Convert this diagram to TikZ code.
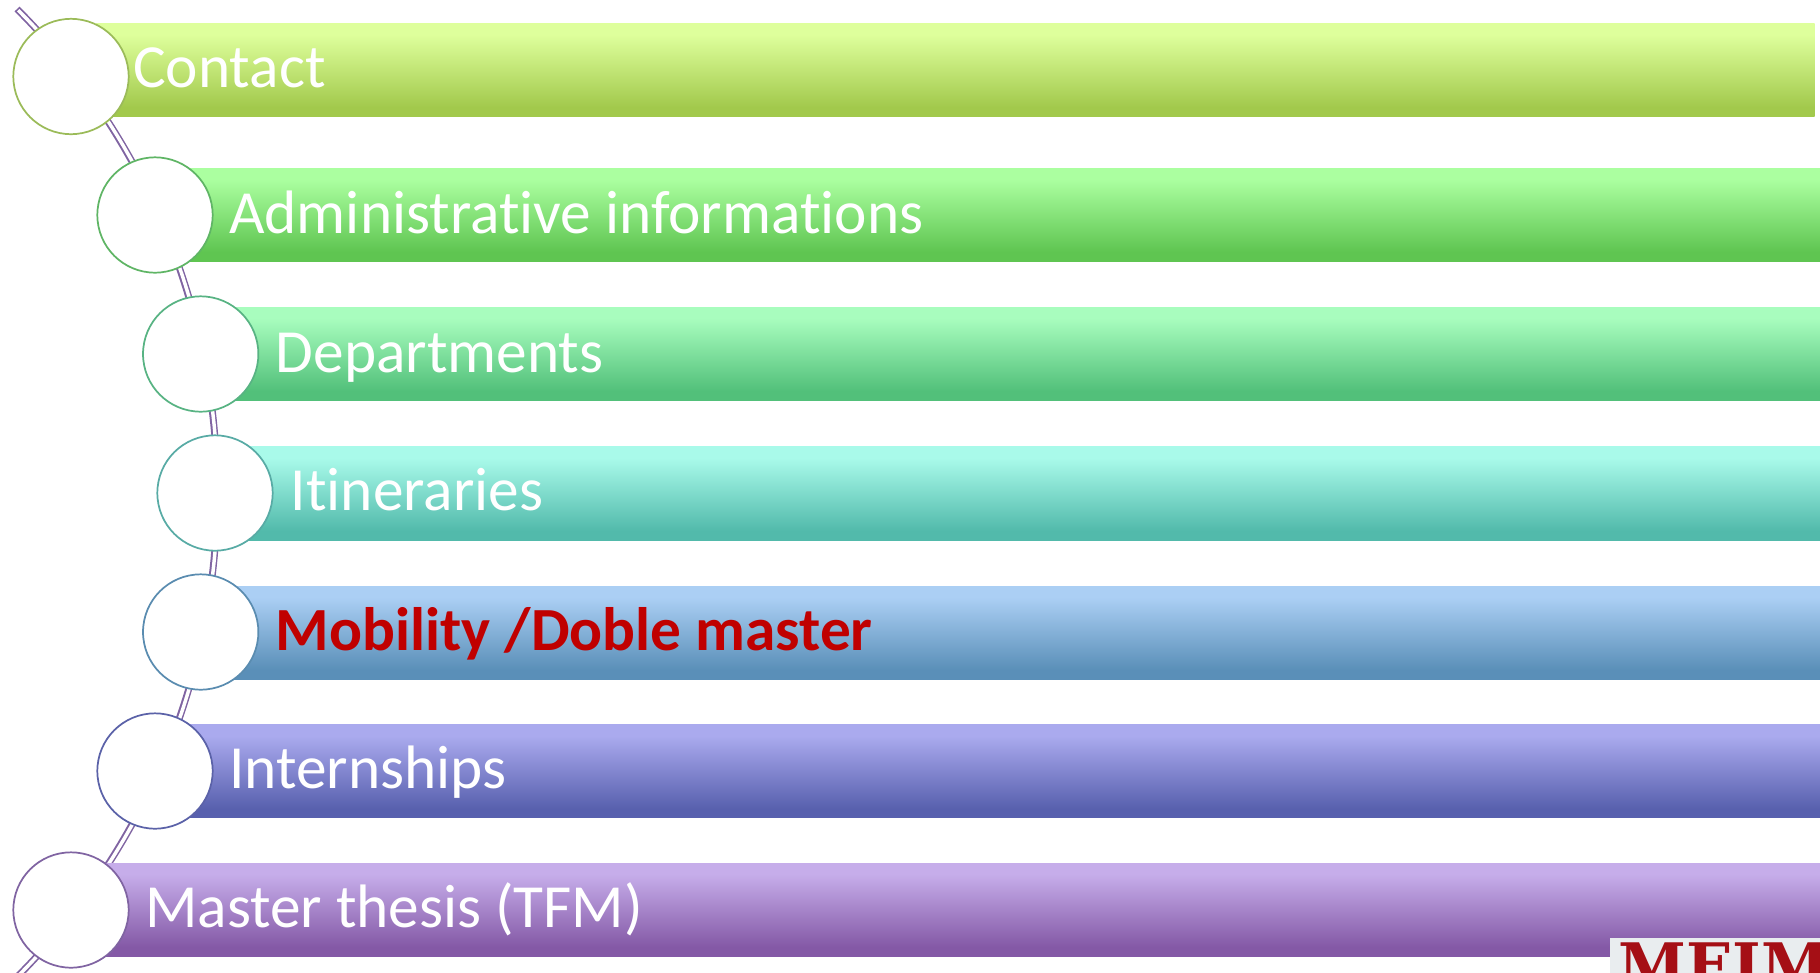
\documentclass[tikz,border=0pt]{standalone}
\usepackage{fontspec}
\setmainfont{Carlito}[Ligatures={NoCommon,NoRare,NoContextual}]
\newfontfamily\logofont{DejaVu Serif}[BoldFont={DejaVu Serif Bold}]
\definecolor{spinec}{HTML}{8064A2}
\definecolor{t1}{HTML}{DEFF9C}\definecolor{b1}{HTML}{A2C94C}\definecolor{c1}{HTML}{9BBB59}
\definecolor{t2}{HTML}{ABFFA0}\definecolor{b2}{HTML}{5FC551}\definecolor{c2}{HTML}{5FB565}
\definecolor{t3}{HTML}{A8FDBE}\definecolor{b3}{HTML}{52C07A}\definecolor{c3}{HTML}{58B383}
\definecolor{t4}{HTML}{A9FAEA}\definecolor{b4}{HTML}{52BAAB}\definecolor{c4}{HTML}{58ABA5}
\definecolor{t5}{HTML}{ABCFF4}\definecolor{b5}{HTML}{5A8FB8}\definecolor{c5}{HTML}{5A8CB0}
\definecolor{t6}{HTML}{AAAAEE}\definecolor{b6}{HTML}{5860AE}\definecolor{c6}{HTML}{5B62A8}
\definecolor{t7}{HTML}{C6ADEA}\definecolor{b7}{HTML}{8459A6}\definecolor{c7}{HTML}{8064A2}
\definecolor{logobg}{HTML}{E9EDEF}
\definecolor{logored}{HTML}{A50F15}
\definecolor{mobred}{HTML}{C00000}
\newcommand{\barshade}[1]{\pgfdeclareverticalshading{shade#1}{100bp}{color(0bp)=(b#1); color(30bp)=(b#1); color(69bp)=(t#1); color(100bp)=(t#1)}}
\barshade{1}\barshade{2}\barshade{3}\barshade{4}\barshade{5}\barshade{6}\barshade{7}
\tikzset{
  px/.style={x=0.75pt,y=-0.75pt},
  barbox/.style={anchor=north west,inner sep=0pt,outer sep=0pt,minimum height=70pt,shade,shading=shade#1,draw=none},
  dot/.style={circle,fill=white,draw=#1,line width=1.3pt,minimum size=86.5pt,inner sep=0pt,outer sep=0pt},
  lbl/.style={anchor=base west,inner sep=0pt,text=white,font=\fontsize{46}{54}\selectfont},
  spine/.style={draw=spinec,line width=5.2pt,postaction={draw=white,line width=2.6pt,shorten <=1.2pt,shorten >=1.2pt}}
}
\begin{document}
\begin{tikzpicture}[px]
\useasboundingbox (0,0) rectangle (1820,972);
\coordinate (spinetop) at (17,9);
\coordinate (spinebot) at (17,977);
\draw[spine] (spinetop) to[bend left=45] (spinebot);
% bars
\node[barbox=1,minimum width=1289pt] (bar1) at (96,23.3) {};
\node[barbox=2,minimum width=1250pt] (bar2) at (155,168) {};
\node[barbox=3,minimum width=1215pt] (bar3) at (200,307) {};
\node[barbox=4,minimum width=1205pt] (bar4) at (215,446.7) {};
\node[barbox=5,minimum width=1215pt] (bar5) at (200,586) {};
\node[barbox=6,minimum width=1250pt] (bar6) at (155,724.5) {};
\node[barbox=7,minimum width=1300pt] (bar7) at (90,863) {};
% circles
\node[dot=c1] (dot1) at (71,76.5) {};
\node[dot=c2] (dot2) at (155,215) {};
\node[dot=c3] (dot3) at (200.7,354) {};
\node[dot=c4] (dot4) at (215,493) {};
\node[dot=c5] (dot5) at (200.7,632) {};
\node[dot=c6] (dot6) at (155,771) {};
\node[dot=c7] (dot7) at (71,910) {};
% labels
\node[lbl] (lab1) at (133,87) {Contact};
\node[lbl] (lab2) at (229,233) {Administrative informations};
\node[lbl] (lab3) at (275.5,372) {Departments};
\node[lbl] (lab4) at (290.5,510) {Itineraries};
\node[lbl,text=mobred,font=\fontsize{46}{54}\selectfont\bfseries] (lab5) at (275.5,650) {Mobility /Doble master};
\node[lbl] (lab6) at (229,788) {Internships};
\node[lbl] (lab7) at (145,927) {Master thesis (TFM)};
% logo
\node[anchor=north west,fill=logobg,inner sep=0pt,outer sep=0pt,minimum width=157.5pt,minimum height=40pt] (logo) at (1610,938) {};
\node[anchor=base west,inner sep=0pt,text=logored,font=\logofont\bfseries\fontsize{46}{50}\selectfont] (logotext) at (1618,987) {MEIM};
\end{tikzpicture}
\end{document}
